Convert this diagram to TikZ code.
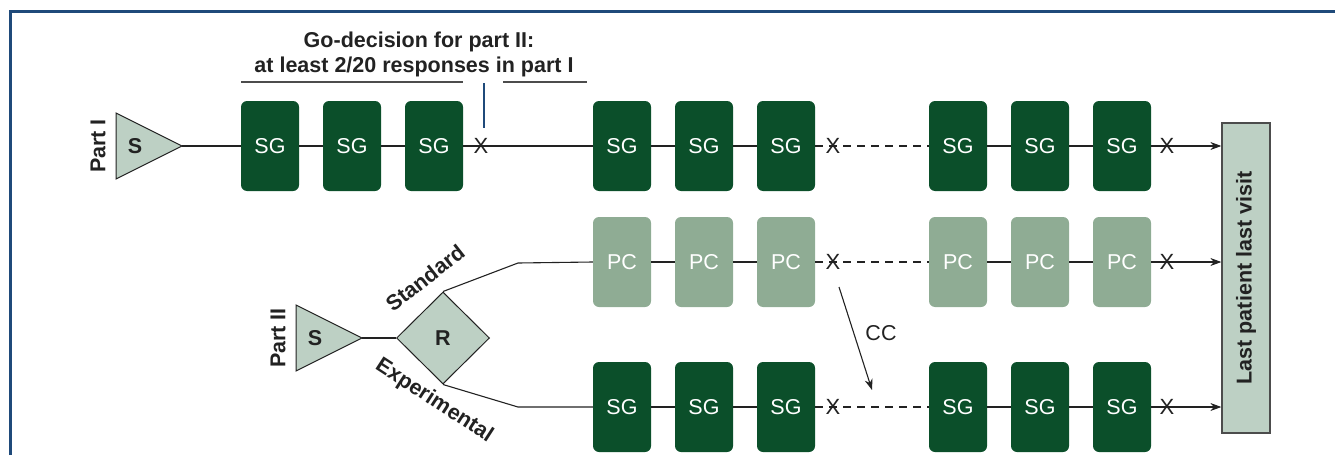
\documentclass[tikz,border=0pt]{standalone}
\usepackage{fontspec}
\setmainfont{Liberation Sans}
\usetikzlibrary{arrows.meta,shapes.geometric}
\definecolor{dkgreen}{HTML}{0B4F2A}
\definecolor{pcgreen}{HTML}{8FAC94}
\definecolor{ltgreen}{HTML}{BDD0C4}
\definecolor{frameblue}{HTML}{1F4A7A}
\definecolor{linegray}{HTML}{222222}
\tikzset{
  sgbox/.style={rectangle, rounded corners=6pt, fill=dkgreen, text=white, minimum width=58pt, minimum height=90pt, inner sep=0pt, font=\fontsize{21.5}{24}\selectfont},
  pcbox/.style={sgbox, fill=pcgreen},
  conn/.style={draw=linegray, line width=1.1pt},
  dashconn/.style={conn, dash pattern=on 8pt off 6pt},
  arrowconn/.style={conn, -{Stealth[length=11pt,width=8pt]}},
  xmark/.style={inner sep=0pt, text=linegray, font=\fontsize{22}{24}\selectfont},
  shapefill/.style={draw=linegray, line width=1pt, fill=ltgreen},
  boldlbl/.style={inner sep=0pt, text=linegray, font=\bfseries\fontsize{21.5}{24}\selectfont},
  plainlbl/.style={inner sep=0pt, text=linegray, font=\fontsize{21.5}{24}\selectfont},
  graybar/.style={draw=black!70, line width=1.3pt},
}
\begin{document}
\begin{tikzpicture}[x=1pt,y=-1pt]
\useasboundingbox (0,0) rectangle (1335,455);
% frame
\draw[frameblue, line width=3pt] (10,455) -- (10,11) -- (1340,11);

% Go-decision
\node[boldlbl, anchor=base] (go1) at (419,47) {Go-decision for part II:};
\node[boldlbl, anchor=base] (go2) at (414,72) {at least 2/20 responses in part I};
\coordinate (b1a) at (241,82); \coordinate (b1b) at (463,82);
\coordinate (b2a) at (503,82); \coordinate (b2b) at (587,82);
\draw[graybar] (b1a) -- (b1b);
\draw[graybar] (b2a) -- (b2b);
\coordinate (va) at (484,83); \coordinate (vb) at (484,128);
\draw[frameblue, line width=1.3pt] (va) -- (vb);

% Part I triangle
\draw[shapefill] (116,113) -- (182,146) -- (116,179) -- cycle;
\coordinate (s1) at (182,146);
\node[boldlbl] (s1lbl) at (135,146) {S};
\node[boldlbl, rotate=90] (p1) at (98,146) {Part I};

% boxes
\foreach \i/\x in {1/270,2/352,3/434,4/622,5/704,6/786,7/958,8/1040,9/1122}
  \node[sgbox] (a\i) at (\x,146) {SG};
\foreach \i/\x in {4/622,5/704,6/786,7/958,8/1040,9/1122}
  \node[pcbox] (b\i) at (\x,262) {PC};
\foreach \i/\x in {4/622,5/704,6/786,7/958,8/1040,9/1122}
  \node[sgbox] (c\i) at (\x,407) {SG};

% Final box
\node[rectangle, draw=black!70, line width=1.3pt, fill=ltgreen, minimum width=48pt, minimum height=310pt, inner sep=0pt] (L) at (1246,278) {};
\node[boldlbl, rotate=90] (Llbl) at (L.center) {Last patient last visit};

% Row 1 connectors
\draw[conn] (s1) -- (a1.west);
\draw[conn] (a1) -- (a2);
\draw[conn] (a2) -- (a3);
\draw[conn] (a3) -- (a4);
\draw[conn] (a4) -- (a5);
\draw[conn] (a5) -- (a6);
\draw[dashconn] (a6.east) -- (a7.west);
\draw[conn] (a7) -- (a8);
\draw[conn] (a8) -- (a9);
\draw[arrowconn] (a9.east) -- (a9.east -| L.west);

% Part II
\draw[shapefill] (296,305) -- (362,338) -- (296,371) -- cycle;
\coordinate (s2) at (362,338);
\node[boldlbl] (s2lbl) at (315,338) {S};
\node[boldlbl, rotate=90] (p2) at (278,338) {Part II};
\node[diamond, shapefill, minimum width=93pt, minimum height=92pt, inner sep=0pt, aspect=1] (R) at (443,338) {};
\node[boldlbl] (Rlbl) at (R.center) {R};
\draw[conn] (s2) -- (R.west);
\coordinate (k1) at (518,263);
\coordinate (k2) at (518,407);
\draw[conn] (R.north) -- (k1) -- (b4.west);
\draw[conn] (R.south) -- (k2) -- (c4.west);
\node[boldlbl, rotate=38] (std) at (425,278) {Standard};
\node[boldlbl, rotate=-33] (exp) at (434,401) {Experimental};

% Row 2 connectors
\draw[conn] (b4) -- (b5);
\draw[conn] (b5) -- (b6);
\draw[dashconn] (b6.east) -- (b7.west);
\draw[conn] (b7) -- (b8);
\draw[conn] (b8) -- (b9);
\draw[arrowconn] (b9.east) -- (b9.east -| L.west);

% Row 3 connectors
\draw[conn] (c4) -- (c5);
\draw[conn] (c5) -- (c6);
\draw[dashconn] (c6.east) -- (c7.west);
\draw[conn] (c7) -- (c8);
\draw[conn] (c8) -- (c9);
\draw[arrowconn] (c9.east) -- (c9.east -| L.west);

% X marks
\node[xmark] (x1) at (481,146) {X};
\node[xmark] (x2) at (833,146) {X};
\node[xmark] (x3) at (1167,146) {X};
\node[xmark] (x4) at (833,262) {X};
\node[xmark] (x5) at (1167,262) {X};
\node[xmark] (x6) at (833,407) {X};
\node[xmark] (x7) at (1167,407) {X};

% CC arrow
\coordinate (cca) at (839,287);
\coordinate (ccb) at (872,390);
\draw[arrowconn] (cca) -- (ccb);
\node[plainlbl] (cc) at (881,333) {CC};
\end{tikzpicture}
\end{document}
